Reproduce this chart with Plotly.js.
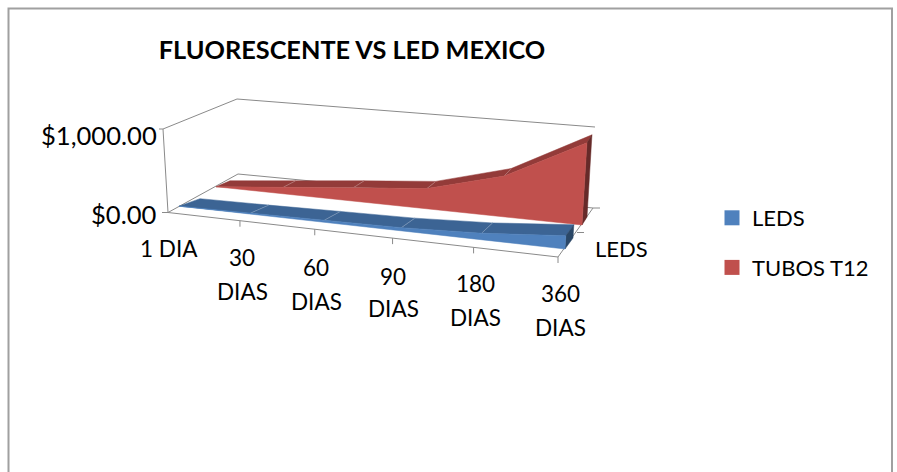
<!DOCTYPE html>
<html>
<head>
<meta charset="utf-8">
<script src="https://cdn.plot.ly/plotly-3.0.1.min.js"></script>
<style>html,body{margin:0;padding:0;background:#fff;overflow:hidden}#chart{width:897px;height:472px}</style>
</head>
<body>
<div id="chart"></div>
<script>
// ---- data ----
const chartTitle = "FLUORESCENTE VS LED MEXICO";
const categories = ["1 DIA", "30 DIAS", "60 DIAS", "90 DIAS", "180 DIAS", "360 DIAS"];
const leds = [4, 13, 27, 40, 80, 160];
const tubos = [3, 82, 165, 245, 490, 990];
const valueTicks = [0, 1000];
const valueTickLabels = ["$0.00", "$1,000.00"];
const depthLabel = "LEDS";

// ---- calibration of the 3D view onto the flat pixel-sized axes ----
const FONT = "Lato, 'Open Sans', sans-serif";
const floorBox = {fl:[168,212.5], fr:[558,257], bl:[238,174], br:[593,208]};
const wallTop = {f:[163,129], b:[237,99], r:[595,127]};
const rails = {
  ledsFront:[[179,206.5],[565,249]], ledsBack:[[200,199],[573,238]],
  tubosFront:[[216,187],[582,225]], tubosBack:[[230,181],[587,217]]
};
const persp = 0.905, valueHeight = 83, lean = 5;

function along(i){ const u = i/(categories.length-1); return u*persp/(1+(persp-1)*u); }
function project(rail, i, v){
  const s = along(i), f = v/1000;
  return [ rail[0][0]+(rail[1][0]-rail[0][0])*s + (-lean+2*lean*s)*f,
           rail[0][1]+(rail[1][1]-rail[0][1])*s - valueHeight*f ];
}
function poly(pts, color){
  const c = pts.concat([pts[0]]);
  return {type:"scatter", mode:"lines", x:c.map(p=>p[0]), y:c.map(p=>p[1]), fill:"toself",
          fillcolor:color, line:{color:color,width:0.5}, hoverinfo:"skip", showlegend:false};
}
function segs(list, color, width){
  const x=[],y=[];
  list.forEach(s=>{ s.forEach(p=>{x.push(p[0]);y.push(p[1]);}); x.push(null); y.push(null); });
  return {type:"scatter", mode:"lines", x, y, line:{color,width}, hoverinfo:"skip", showlegend:false};
}
function slab(vals, front, back, cFront, cTop, cSide){
  const out=[], n=vals.length;
  for(let i=0;i<n-1;i++){
    out.push(poly([project(front,i,vals[i]),project(front,i+1,vals[i+1]),
                   project(back,i+1,vals[i+1]),project(back,i,vals[i])], cTop));
  }
  // seams between the top facets
  const seams=[]; for(let i=1;i<n-1;i++) seams.push([project(front,i,vals[i]),project(back,i,vals[i])]);
  out.push(segs(seams,"rgba(255,255,255,0.35)",0.7));
  // right end cap
  out.push(poly([project(front,n-1,0),project(front,n-1,vals[n-1]),
                 project(back,n-1,vals[n-1]),project(back,n-1,0)], cSide));
  // front face
  const fp=[]; for(let i=0;i<n;i++) fp.push(project(front,i,vals[i]));
  for(let i=n-1;i>=0;i--) fp.push(project(front,i,0));
  out.push(poly(fp,cFront));
  return out;
}

const grey = "#8a8a8a";
const n = categories.length;
const box = segs([
  [floorBox.fl,floorBox.fr],[floorBox.fr,floorBox.br],[floorBox.fl,floorBox.bl],[floorBox.bl,floorBox.br],
  [floorBox.fl,wallTop.f],[wallTop.f,wallTop.b],[wallTop.b,wallTop.r]
], grey, 1);
const frontTicks = [];
for(let i=1;i<n;i++){
  const s=along(i), x=floorBox.fl[0]+(floorBox.fr[0]-floorBox.fl[0])*s, y=floorBox.fl[1]+(floorBox.fr[1]-floorBox.fl[1])*s;
  frontTicks.push([[x,y],[x,y+6]]);
}
const midDepth=[(floorBox.fr[0]+floorBox.br[0])/2+1.5,(floorBox.fr[1]+floorBox.br[1])/2];
const otherTicks = [
  [[floorBox.fl[0]-6,floorBox.fl[1]],floorBox.fl],[[wallTop.f[0]-4,wallTop.f[1]],wallTop.f],
  [floorBox.br,[floorBox.br[0]+7,floorBox.br[1]]],[midDepth,[midDepth[0]+7,midDepth[1]]]
];
const ticks = segs(frontTicks.concat(otherTicks), grey, 1);

const traces = [box, ticks]
  .concat(slab(tubos, rails.tubosFront, rails.tubosBack, "#C0504D", "#933B39", "#662A29"))
  .concat(slab(leds, rails.ledsFront, rails.ledsBack, "#4F81BD", "#3C6494", "#2A4767"));
traces.push({type:"scatter",mode:"markers",name:"LEDS",x:[null],y:[null],legendgroup:"a",
             marker:{symbol:"square",size:15,color:"#4F81BD"},hoverinfo:"skip"});
traces.push({type:"scatter",mode:"markers",name:"TUBOS T12",x:[null],y:[null],legendgroup:"b",
             marker:{symbol:"square",size:15,color:"#C0504D"},hoverinfo:"skip"});

// ---- text ----
const catPos = [[169,248],[242,257,291],[316,267,301],[393,276,308],[475,283,317],[560,293,327]];
const valueLabelShift = [1.5, 5.5];
const annotations = [];
function note(text,x,y,anchor,size){
  annotations.push({text,x,y,xref:"x",yref:"y",showarrow:false,
    xanchor:anchor||"center",yanchor:"middle",font:{family:FONT,size:size||22.5,color:"#000"}});
}
categories.forEach((c,i)=>{
  const parts=c.split(" "), p=catPos[i];
  if(i===0){ note(c,p[0],p[1]); }
  else { note(parts[0],p[0],p[1]); note(parts[1],p[0],p[2]); }
});
valueTicks.forEach((v,i)=>{
  note(valueTickLabels[i],159,floorBox.fl[1]+(wallTop.f[1]-floorBox.fl[1])*v/1000+valueLabelShift[i],"right",25.6);
});
note(depthLabel,621,248,"center",22);

const layout = {
  width:897,height:472,margin:{l:0,r:0,t:0,b:0},paper_bgcolor:"#fff",plot_bgcolor:"#fff",
  title:{text:"<b>"+chartTitle+"</b>",x:352/897,xanchor:"center",y:1-50/472,yanchor:"middle",
         font:{family:FONT,size:25.3,color:"#000"}},
  xaxis:{visible:false,range:[0,897],fixedrange:true},
  yaxis:{visible:false,range:[472,0],fixedrange:true},
  showlegend:true,
  legend:{x:716/897,xanchor:"left",y:1-197/472,yanchor:"top",traceorder:"grouped",tracegroupgap:18,indentation:-4,
          font:{family:FONT,size:22,color:"#000"},bgcolor:"rgba(0,0,0,0)"},
  annotations,
  shapes:[{type:"rect",xref:"x",yref:"y",x0:8.5,x1:892,y0:8.5,y1:490,line:{color:"#a0a0a0",width:2},fillcolor:"rgba(0,0,0,0)",layer:"below"}]
};
Plotly.newPlot("chart",traces,layout,{displayModeBar:false,staticPlot:true});
</script>
</body>
</html>
